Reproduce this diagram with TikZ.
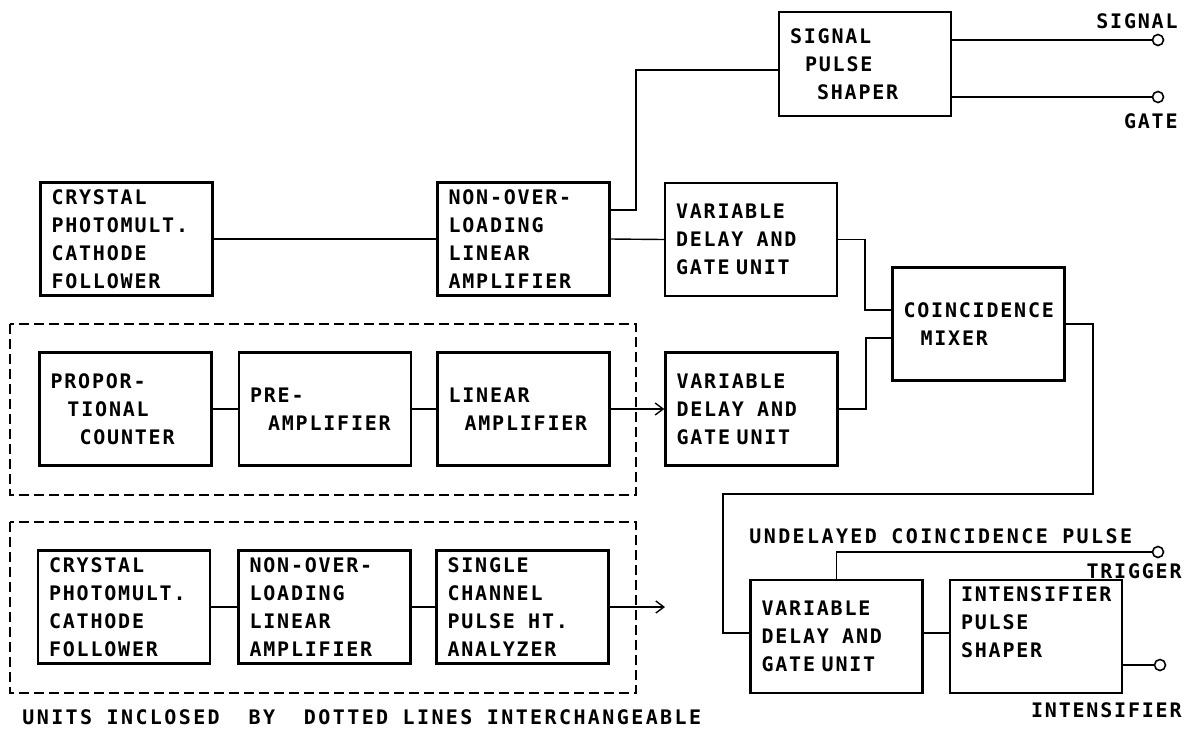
\documentclass[tikz,border=0pt]{standalone}
\usepackage{fontspec}
\setmainfont{DejaVu Sans Mono}[LetterSpace=9, UprightFont=* Bold]
\usetikzlibrary{arrows.meta}
\newcommand\lettering{\fontsize{10pt}{14pt}\selectfont}
\tikzset{
  unit/.style={draw, line width=1.2pt, minimum width=86pt, minimum height=56.5pt,
    text width=75pt, inner xsep=5.5pt, align=left, font=\lettering},
  wire/.style={line width=0.7pt},
  feed/.style={wire, -{Straight Barb[length=4pt,width=6pt]}},
  term/.style={draw, circle, line width=0.8pt, inner sep=0pt, minimum size=5.5pt},
  tag/.style={inner sep=0pt, font=\lettering},
  widetag/.style={tag, font=\lettering\addfontfeatures{LetterSpace=12}},
  group/.style={line width=0.8pt, dash pattern=on 5pt off 2.5pt}
}

\begin{document}
\begin{tikzpicture}[x=0.5pt, y=-0.5pt]
    \useasboundingbox (0,0) rectangle (1195,730);
    \node[unit] (crys) at (126.5,239) {CRYSTAL\\PHOTOMULT.\\CATHODE\\FOLLOWER};
    \node[unit] (nonovl) at (523.5,239) {NON-OVER-\\LOADING\\LINEAR\\AMPLIFIER};
    \node[unit] (delA) at (751,239.5) {VARIABLE\\DELAY\ \ AND\\GATE UNIT};
    \node[unit, minimum height=52pt] (shaper) at (865,64) {SIGNAL\\\hspace{7.5pt}PULSE\\\hspace{13.5pt}SHAPER};
    \node[unit] (mixer) at (978.5,324) {COINCIDENCE\\\hspace{8.5pt}MIXER};
    \node[unit] (prop) at (125.5,409) {PROPOR-\\\hspace{8.5pt}TIONAL\\\hspace{14.5pt}COUNTER};
    \node[unit] (preamp) at (325,409) {PRE-\\\hspace{9pt}AMPLIFIER};
    \node[unit] (linamp) at (523.5,409) {LINEAR\\\hspace{8pt}AMPLIFIER};
    \node[unit] (delB) at (751.5,409) {VARIABLE\\DELAY\ \ AND\\GATE UNIT};
    \node[unit] (crysB) at (124,607) {CRYSTAL\\PHOTOMULT.\\CATHODE\\FOLLOWER};
    \node[unit] (nonovlB) at (324.5,607) {NON-OVER-\\LOADING\\LINEAR\\AMPLIFIER};
    \node[unit] (sca) at (522.5,607) {SINGLE\\CHANNEL\\PULSE\ \ HT.\\ANALYZER};
    \node[unit] (delC) at (836.5,636.5) {VARIABLE\\DELAY\ \ AND\\GATE UNIT};
    \node[unit] (intens) at (1036,636.5) {INTENSIFIER\\PULSE\\SHAPER\\\mbox{}};
    \node[term] (tsig) at (1158,40) {};
    \node[term] (tgate) at (1158,97) {};
    \node[term] (ttrig) at (1158,552) {};
    \node[term] (tint) at (1160,665) {};
    \coordinate (out) at (665,607);

    \draw[group] (10,324) rectangle (636,495);
    \draw[group] (10,522) rectangle (636,693);

    \draw[wire] (crys.east) -- (nonovl.west);
    \draw[wire] (nonovl.east |- 0,210) -| (636,70) -- (shaper.west |- 0,70);
    \draw[wire] (nonovl.east) -- (delA.west);
    \draw[wire] (shaper.east |- tsig) -- (tsig.west);
    \draw[wire] (shaper.east |- tgate) -- (tgate.west);
    \draw[wire] (delA.east) -| (865,310) -- (mixer.west |- 0,310);
    \draw[wire] (delB.east) -| (866,338) -- (mixer.west |- 0,338);
    \draw[wire] (mixer.east) -| (1093,494) -| (723,633) -- (delC.west |- 0,633);
    \draw[wire] (delC.east |- 0,633) -- (intens.west |- 0,633);
    \draw[wire] (delC.north) |- (ttrig.west);
    \draw[wire] (intens.east |- tint) -- (tint.west);
    \draw[wire] (prop) -- (preamp);
    \draw[wire] (preamp) -- (linamp);
    \draw[feed] (linamp.east) -- (delB.west);
    \draw[wire] (crysB) -- (nonovlB);
    \draw[wire] (nonovlB) -- (sca);
    \draw[feed] (sca.east) -- (out);

    \node[tag, anchor=base east] (lsig) at (1178,28) {SIGNAL};
    \node[tag, anchor=base east] (lgate) at (1178,128) {GATE};
    \node[widetag, anchor=base west] (lundel) at (749,543) {UNDELAYED COINCIDENCE PULSE};
    \node[tag, anchor=base east] (ltrig) at (1182,578) {TRIGGER};
    \node[tag, anchor=base east] (lint) at (1182,717) {INTENSIFIER};
    \node[widetag, anchor=base west] (note) at (22,724) {UNITS INCLOSED\ \ BY\ \ DOTTED LINES INTERCHANGEABLE};
\end{tikzpicture}
\end{document}
